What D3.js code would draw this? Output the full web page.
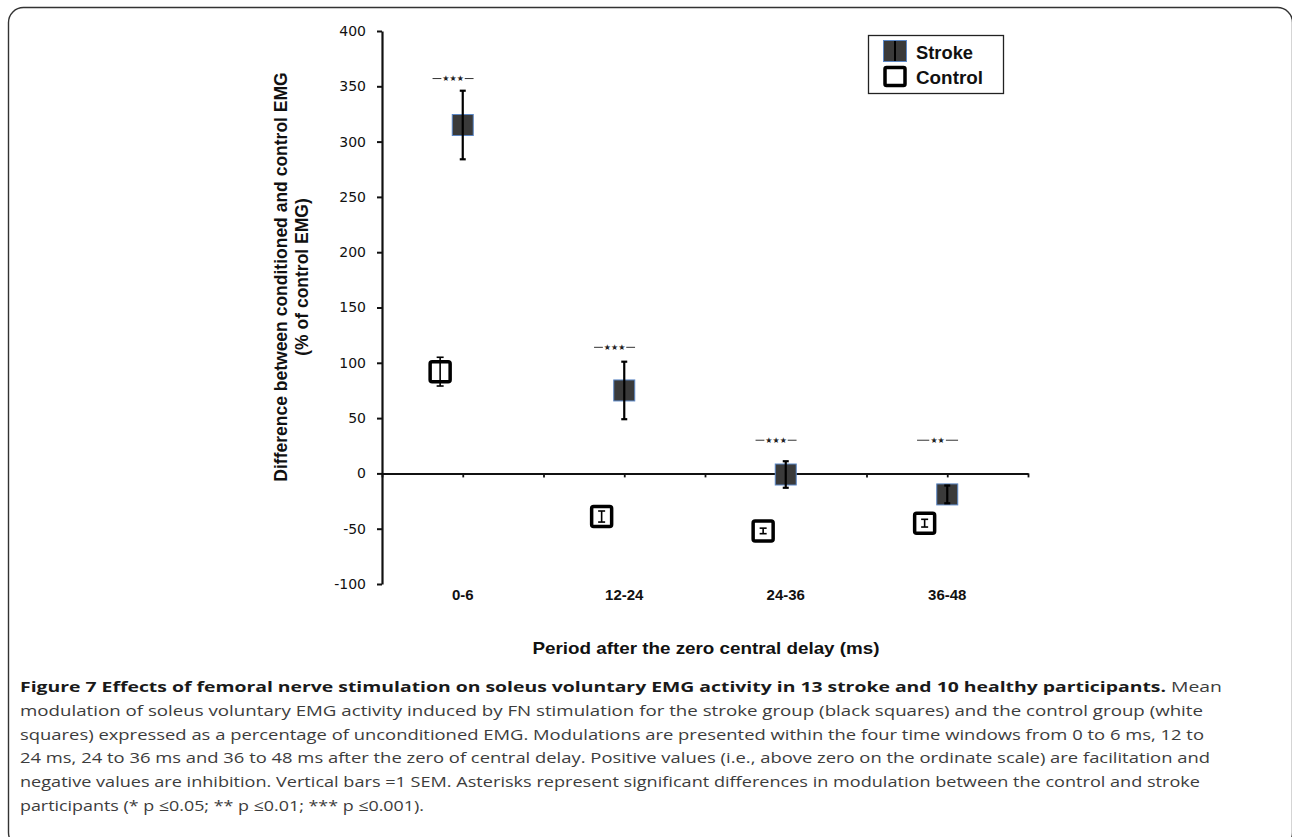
<!DOCTYPE html>
<html>
<head>
<meta charset="utf-8">
<script src="https://cdn.jsdelivr.net/npm/d3@7"></script>
<style>
  body { margin: 0; background: #fff; }
  svg { display: block; }
</style>
</head>
<body>
<script>
// Data
const periods = ["0-6", "12-24", "24-36", "36-48"];
const periodPos = [1, 3, 5, 7];          // x position on the 0-8 chart grid
const strokeMean = [315, 75, -1, -19];
const strokeSem = [31, 26, 12, 8];
const controlMean = [92, -39, -52, -45];
const controlSem = [13, 5, 2.5, 3.5];
const sigLabels = ["\u2605\u2605\u2605", "\u2605\u2605\u2605", "\u2605\u2605\u2605", "\u2605\u2605"];
const sigLevel = [357, 114, 30, 30];
const yTicks = [-100, -50, 0, 50, 100, 150, 200, 250, 300, 350, 400];

const captionBold = "Figure 7 Effects of femoral nerve stimulation on soleus voluntary EMG activity in 13 stroke and 10 healthy participants.";
const captionLines = [
  " Mean",
  "modulation of soleus voluntary EMG activity induced by FN stimulation for the stroke group (black squares) and the control group (white",
  "squares) expressed as a percentage of unconditioned EMG. Modulations are presented within the four time windows from 0 to 6 ms, 12 to",
  "24 ms, 24 to 36 ms and 36 to 48 ms after the zero of central delay. Positive values (i.e., above zero on the ordinate scale) are facilitation and",
  "negative values are inhibition. Vertical bars =1 SEM. Asterisks represent significant differences in modulation between the control and stroke",
  "participants (* p \u22640.05; ** p \u22640.01; *** p \u22640.001)."
];
const captionWidths = [1202, 1183, 1184, 1190, 1180, 404];

const W = 1292, H = 837;
const controlShift = -0.28;   // control squares sit left of the stroke squares
const sigShift = -0.12;

const svg = d3.select("body").append("svg")
  .attr("width", W)
  .attr("height", H);

// outer frame (right edge falls just off the page)
svg.append("rect")
  .attr("x", 8.5).attr("y", 7.5)
  .attr("width", 1284).attr("height", 840)
  .attr("rx", 15).attr("ry", 15)
  .attr("fill", "none")
  .attr("stroke", "#333")
  .attr("stroke-width", 1.4);

const x = d3.scaleLinear().domain([0, 8]).range([382, 1028]);
const y = d3.scaleLinear().domain([-100, 400]).range([584, 31]);

// y axis
const yAxis = svg.append("g")
  .attr("transform", "translate(382,0)")
  .call(d3.axisLeft(y).tickValues(yTicks).tickSize(5).tickSizeOuter(0).tickPadding(11)
    .tickFormat(d => String(d)));
yAxis.select(".domain").attr("stroke", "#111").attr("stroke-width", 2.2);
yAxis.selectAll(".tick line").attr("stroke", "#111").attr("stroke-width", 2);
yAxis.selectAll(".tick text")
  .attr("font-family", "'DejaVu Sans', sans-serif")
  .attr("font-size", 14)
  .attr("fill", "#111");

// x axis at zero
const xAxis = svg.append("g")
  .attr("transform", `translate(0,${y(0)})`)
  .call(d3.axisBottom(x).tickValues(d3.range(0, 9)).tickSize(4).tickSizeOuter(0).tickFormat(""));
xAxis.select(".domain").attr("stroke", "#111").attr("stroke-width", 2);
xAxis.selectAll(".tick line").attr("stroke", "#111").attr("stroke-width", 1.8);

// category labels, low position
svg.append("g").selectAll("text")
  .data(periods)
  .join("text")
  .attr("x", (d, i) => x(periodPos[i]))
  .attr("y", 600)
  .attr("text-anchor", "middle")
  .attr("font-family", "'Liberation Sans', Arial, sans-serif")
  .attr("font-weight", "bold")
  .attr("font-size", 15)
  .attr("fill", "#111")
  .text(d => d);

// axis titles
svg.append("text")
  .attr("x", 706).attr("y", 654)
  .attr("text-anchor", "middle")
  .attr("font-family", "'Liberation Sans', Arial, sans-serif")
  .attr("font-weight", "bold")
  .attr("font-size", 17)
  .attr("textLength", 347)
  .attr("lengthAdjust", "spacingAndGlyphs")
  .attr("fill", "#111")
  .text("Period after the zero central delay (ms)");

const yTitle = svg.append("text")
  .attr("transform", "translate(287,277) rotate(-90)")
  .attr("text-anchor", "middle")
  .attr("font-family", "'Liberation Sans', Arial, sans-serif")
  .attr("font-weight", "bold")
  .attr("font-size", 17.5)
  .attr("fill", "#111");
yTitle.append("tspan").attr("x", 0).attr("dy", 0).text("Difference between conditioned and control EMG");
yTitle.append("tspan").attr("x", 0).attr("dy", 21).text("(% of control EMG)");

// significance markers: dash, stars, dash
const sig = svg.append("g").selectAll("g")
  .data(sigLabels)
  .join("g")
  .attr("transform", (d, i) => `translate(${x(periodPos[i] + sigShift)},${y(sigLevel[i])})`);
sig.append("text")
  .attr("text-anchor", "middle")
  .attr("dy", "0.33em")
  .attr("font-family", "'DejaVu Sans', sans-serif")
  .attr("font-size", 8)
  .attr("fill", "#222")
  .text(d => d);
sig.append("line")
  .attr("x1", -20.5)
  .attr("x2", d => -d.length * 3.4 - 1.5)
  .attr("stroke", "#333").attr("stroke-width", 1);
sig.append("line")
  .attr("x1", 20.5)
  .attr("x2", d => d.length * 3.4 + 1.5)
  .attr("stroke", "#333").attr("stroke-width", 1);

// control squares
const cS = 20;
svg.append("g").selectAll("rect")
  .data(controlMean)
  .join("rect")
  .attr("x", (d, i) => x(periodPos[i] + controlShift) - cS / 2)
  .attr("y", d => y(d) - cS / 2)
  .attr("width", cS).attr("height", cS)
  .attr("rx", 2)
  .attr("fill", "#fff")
  .attr("stroke", "#000")
  .attr("stroke-width", 3.5);

function errorBars(g, means, sems, shift, width, cap) {
  const bars = g.append("g").selectAll("g")
    .data(means)
    .join("g")
    .attr("stroke", "#000")
    .attr("stroke-width", width);
  bars.append("line")
    .attr("x1", (d, i) => x(periodPos[i] + shift))
    .attr("x2", (d, i) => x(periodPos[i] + shift))
    .attr("y1", (d, i) => y(d + sems[i]))
    .attr("y2", (d, i) => y(d - sems[i]));
  [1, -1].forEach(s => {
    bars.append("line")
      .attr("x1", (d, i) => x(periodPos[i] + shift) - cap)
      .attr("x2", (d, i) => x(periodPos[i] + shift) + cap)
      .attr("y1", (d, i) => y(d + s * sems[i]))
      .attr("y2", (d, i) => y(d + s * sems[i]));
  });
}
errorBars(svg, controlMean, controlSem, controlShift, 1.6, 3.5);

// stroke squares
const sS = 21;
svg.append("g").selectAll("rect")
  .data(strokeMean)
  .join("rect")
  .attr("x", (d, i) => x(periodPos[i]) - sS / 2)
  .attr("y", d => y(d) - sS / 2)
  .attr("width", sS).attr("height", sS)
  .attr("fill", "#3a3a3a")
  .attr("stroke", "#5b87c5")
  .attr("stroke-width", 1);
errorBars(svg, strokeMean, strokeSem, 0, 2.2, 3);

// legend
const legend = svg.append("g");
legend.append("rect")
  .attr("x", 868.5).attr("y", 35.5)
  .attr("width", 135).attr("height", 58)
  .attr("fill", "#fff")
  .attr("stroke", "#222")
  .attr("stroke-width", 1.3);
legend.append("rect")
  .attr("x", 883.5).attr("y", 40.5)
  .attr("width", 23).attr("height", 21)
  .attr("fill", "#3a3a3a")
  .attr("stroke", "#5b87c5");
legend.append("line")
  .attr("x1", 895).attr("x2", 895)
  .attr("y1", 41).attr("y2", 61)
  .attr("stroke", "#000").attr("stroke-width", 2);
legend.append("rect")
  .attr("x", 885).attr("y", 67.5)
  .attr("width", 20).attr("height", 18)
  .attr("rx", 1.5)
  .attr("fill", "#fff")
  .attr("stroke", "#000")
  .attr("stroke-width", 3.5);
legend.selectAll("text.lab")
  .data(["Stroke", "Control"])
  .join("text")
  .attr("class", "lab")
  .attr("x", 916)
  .attr("y", (d, i) => 59 + i * 25)
  .attr("font-family", "'Liberation Sans', Arial, sans-serif")
  .attr("font-weight", "bold")
  .attr("font-size", 17.5)
  .attr("textLength", (d, i) => [57, 67][i])
  .attr("lengthAdjust", "spacingAndGlyphs")
  .attr("fill", "#111")
  .text(d => d);

// caption
const cap = svg.append("g")
  .attr("font-family", "'Open Sans', sans-serif")
  .attr("font-size", 15);
captionLines.forEach((line, i) => {
  const t = cap.append("text")
    .attr("x", 20)
    .attr("y", 692 + i * 23.8)
    .attr("textLength", captionWidths[i])
    .attr("lengthAdjust", "spacingAndGlyphs")
    .attr("fill", "#3c3c3c");
  if (i === 0) {
    t.append("tspan").attr("font-weight", "bold").attr("fill", "#1a1a1a").text(captionBold);
  }
  t.append("tspan").text(line);
});
</script>
</body>
</html>
